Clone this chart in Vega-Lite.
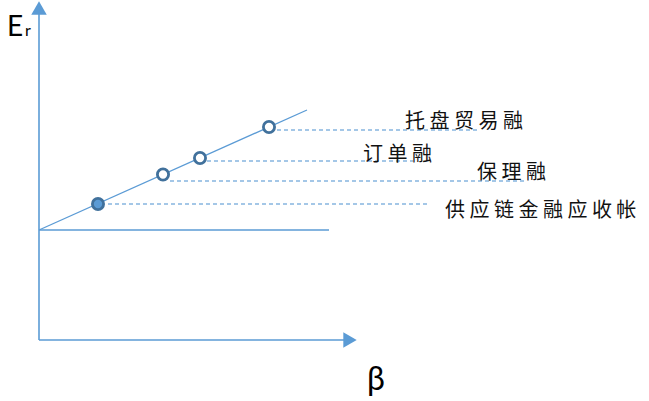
{
  "$schema": "https://vega.github.io/schema/vega-lite/v6.json",
  "width": 649,
  "height": 401,
  "autosize": {"type": "fit", "contains": "padding"},
  "padding": 0,
  "background": "#ffffff",
  "config": {"view": {"stroke": null}},
  "datasets": {
    "lines": [
      {"id": "yaxis", "kind": "axis", "beta": 0, "Er": 0},
      {"id": "yaxis", "kind": "axis", "beta": 0, "Er": 329},
      {"id": "xaxis", "kind": "axis", "beta": 0, "Er": 0},
      {"id": "xaxis", "kind": "axis", "beta": 305, "Er": 0},
      {"id": "base", "kind": "model", "beta": 0, "Er": 110},
      {"id": "base", "kind": "model", "beta": 290, "Er": 110},
      {"id": "slope", "kind": "model", "beta": 0, "Er": 110},
      {"id": "slope", "kind": "model", "beta": 268, "Er": 230},
      {"id": "g1", "kind": "guide", "beta": 238, "Er": 210},
      {"id": "g1", "kind": "guide", "beta": 438, "Er": 210},
      {"id": "g2", "kind": "guide", "beta": 168, "Er": 179},
      {"id": "g2", "kind": "guide", "beta": 374, "Er": 179},
      {"id": "g3", "kind": "guide", "beta": 131, "Er": 159},
      {"id": "g3", "kind": "guide", "beta": 486, "Er": 159},
      {"id": "g4", "kind": "guide", "beta": 69, "Er": 136},
      {"id": "g4", "kind": "guide", "beta": 388, "Er": 136}
    ],
    "arrows": [
      {"dir": "up", "beta": 0, "Er": 332},
      {"dir": "right", "beta": 311, "Er": 0}
    ],
    "points": [
      {"name": "供应链金融应收帐", "status": "current", "beta": 59, "Er": 136},
      {"name": "保理融", "status": "other", "beta": 124, "Er": 165.5},
      {"name": "订单融", "status": "other", "beta": 161, "Er": 182},
      {"name": "托盘贸易融", "status": "other", "beta": 230, "Er": 213}
    ],
    "labels": [
      {"label": "托 盘 贸 易 融", "beta": 366, "Er": 218},
      {"label": "订  单  融", "beta": 324, "Er": 185},
      {"label": "保  理  融", "beta": 438, "Er": 167},
      {"label": "供 应 链 金 融 应 收 帐", "beta": 406, "Er": 129}
    ],
    "ytitle": [
      {"t": "E", "beta": -32, "Er": 304}
    ],
    "xtitle": [
      {"t": "β", "beta": 328, "Er": -50}
    ],
    "subs": [
      {"t": "r", "beta": -14, "Er": 304}
    ]
  },
  "encoding": {
    "x": {"field": "beta", "type": "quantitative", "scale": {"domain": [-39, 610], "nice": false, "zero": false}, "axis": null},
    "y": {"field": "Er", "type": "quantitative", "scale": {"domain": [-61, 340], "nice": false, "zero": false}, "axis": null}
  },
  "layer": [
    {
      "data": {"name": "lines"},
      "transform": [{"filter": "datum.kind === 'guide'"}],
      "mark": {"type": "line", "color": "#4a8fd0", "strokeWidth": 1.1, "strokeDash": [4, 3]},
      "encoding": {"detail": {"field": "id"}}
    },
    {
      "data": {"name": "lines"},
      "transform": [{"filter": "datum.kind === 'axis'"}],
      "mark": {"type": "line", "color": "#5b9bd5", "strokeWidth": 1.6},
      "encoding": {"detail": {"field": "id"}}
    },
    {
      "data": {"name": "lines"},
      "transform": [{"filter": "datum.kind === 'model'"}],
      "mark": {"type": "line", "color": "#5b9bd5", "strokeWidth": 1.3},
      "encoding": {"detail": {"field": "id"}}
    },
    {
      "data": {"name": "arrows"},
      "mark": {"type": "point", "filled": true, "color": "#5b9bd5", "size": 240, "opacity": 1},
      "encoding": {
        "shape": {"field": "dir", "type": "nominal", "scale": {"domain": ["up", "right"], "range": ["triangle-up", "triangle-right"]}, "legend": null}
      }
    },
    {
      "data": {"name": "points"},
      "mark": {"type": "point", "shape": "circle", "size": 125, "stroke": "#41719c", "strokeWidth": 2.8, "opacity": 1, "fillOpacity": 1},
      "encoding": {
        "fill": {"field": "status", "type": "nominal", "scale": {"domain": ["current", "other"], "range": ["#5b9bd5", "#ffffff"]}, "legend": null}
      }
    },
    {
      "data": {"name": "labels"},
      "mark": {"type": "text", "align": "left", "baseline": "middle", "font": "Noto Sans CJK SC", "fontSize": 20, "color": "#111111"},
      "encoding": {"text": {"field": "label"}}
    },
    {
      "data": {"name": "ytitle"},
      "mark": {"type": "text", "align": "left", "baseline": "alphabetic", "font": "Lato", "fontSize": 28, "color": "#000000"},
      "encoding": {"text": {"field": "t"}}
    },
    {
      "data": {"name": "xtitle"},
      "mark": {"type": "text", "align": "left", "baseline": "alphabetic", "font": "Lato", "fontSize": 32, "color": "#000000"},
      "encoding": {"text": {"field": "t"}}
    },
    {
      "data": {"name": "subs"},
      "mark": {"type": "text", "align": "left", "baseline": "alphabetic", "font": "Lato", "fontSize": 16, "color": "#000000"},
      "encoding": {"text": {"field": "t"}}
    }
  ]
}
